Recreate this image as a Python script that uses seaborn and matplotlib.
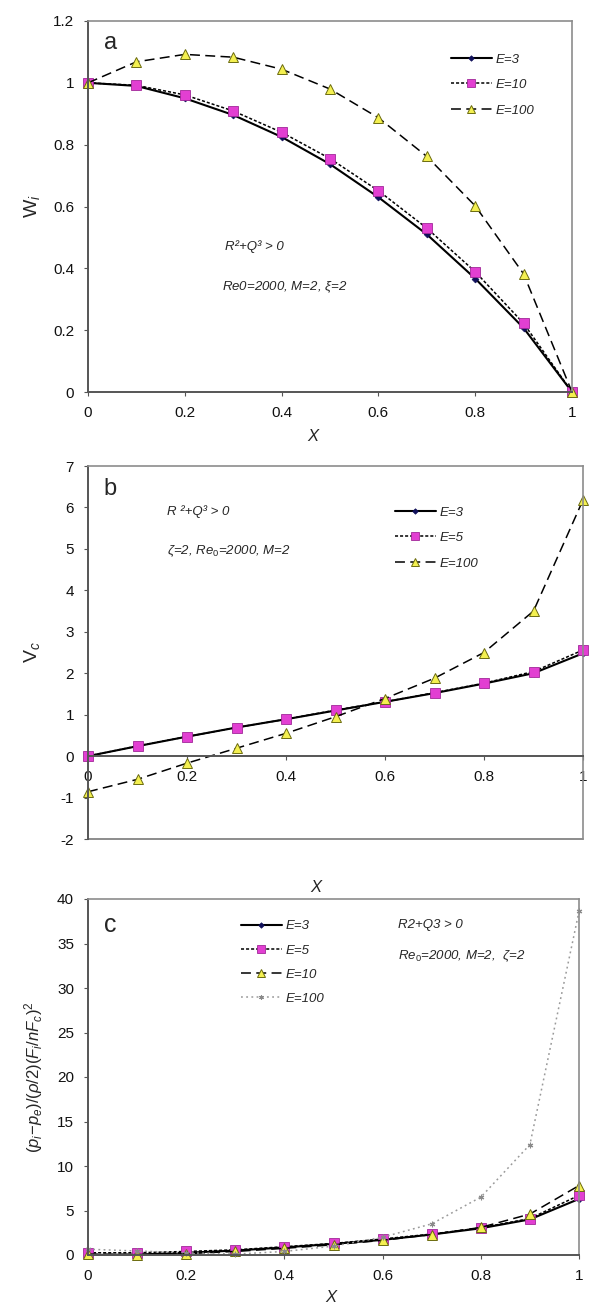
import matplotlib
matplotlib.use("Agg")
import matplotlib.pyplot as plt
import seaborn as sns
import pandas as pd

# ---------------- data ----------------
x_vals = [0.0, 0.1, 0.2, 0.3, 0.4, 0.5, 0.6, 0.7, 0.8, 0.9, 1.0]
x_ticks = [0, 0.2, 0.4, 0.6, 0.8, 1.0]
x_tick_labels = ["0", "0.2", "0.4", "0.6", "0.8", "1"]

# panel a : W_i
a_series = ["E=3", "E=10", "E=100"]
a_e3 = [1.0, 0.99, 0.95, 0.896, 0.825, 0.737, 0.63, 0.51, 0.367, 0.207, 0.0]
a_e10 = [1.0, 0.992, 0.961, 0.909, 0.84, 0.755, 0.651, 0.53, 0.389, 0.222, 0.0]
a_e100 = [1.0, 1.068, 1.092, 1.083, 1.044, 0.98, 0.887, 0.762, 0.602, 0.382, 0.0]
a_yticks = [0, 0.2, 0.4, 0.6, 0.8, 1.0, 1.2]
a_ytick_labels = ["0", "0.2", "0.4", "0.6", "0.8", "1", "1.2"]

# panel b : V_c
b_series = ["E=3", "E=5", "E=100"]
b_e3 = [0.0, 0.24, 0.47, 0.69, 0.89, 1.10, 1.31, 1.52, 1.75, 2.0, 2.48]
b_e5 = [0.0, 0.245, 0.47, 0.69, 0.89, 1.11, 1.31, 1.53, 1.76, 2.04, 2.56]
b_e100 = [-0.86, -0.56, -0.17, 0.19, 0.55, 0.95, 1.39, 1.88, 2.5, 3.5, 6.18]
b_yticks = [-2, -1, 0, 1, 2, 3, 4, 5, 6, 7]
b_ytick_labels = ["-2", "-1", "0", "1", "2", "3", "4", "5", "6", "7"]

# panel c : pressure
c_series = ["E=3", "E=5", "E=10", "E=100"]
c_e3 = [0.0, 0.05, 0.25, 0.5, 0.85, 1.25, 1.7, 2.3, 3.0, 4.0, 6.3]
c_e5 = [0.25, 0.25, 0.4, 0.58, 0.93, 1.3, 1.8, 2.35, 3.05, 4.1, 6.7]
c_e10 = [0.1, 0.05, 0.15, 0.4, 0.75, 1.15, 1.65, 2.3, 3.1, 4.6, 7.8]
c_e100 = [0.65, 0.45, 0.25, 0.1, 0.4, 1.0, 2.0, 3.5, 6.5, 12.4, 38.6]
c_yticks = [0, 5, 10, 15, 20, 25, 30, 35, 40]
c_ytick_labels = ["0", "5", "10", "15", "20", "25", "30", "35", "40"]

# ---------------- style ----------------
sns.set_theme(style="white")
plt.rcParams["font.family"] = ["Liberation Sans", "DejaVu Sans"]
plt.rcParams["mathtext.fontset"] = "custom"
plt.rcParams["mathtext.rm"] = "Liberation Sans"
plt.rcParams["mathtext.it"] = "Liberation Sans:italic"
plt.rcParams["mathtext.bf"] = "Liberation Sans:bold"

W, H = 589, 1310
fig = plt.figure(figsize=(W / 100, H / 100), dpi=100)


def add_ax(l, t, r, b):
    return fig.add_axes([l / W, 1 - b / H, (r - l) / W, (b - t) / H])


ax_a = add_ax(88, 21, 572, 392)
ax_b = add_ax(88, 466, 583, 839)
ax_c = add_ax(88, 899, 579, 1255)

SOLID = dict(color="black", linestyle="-", linewidth=1.5, marker="D", markersize=3.5,
             markerfacecolor="#10105a", markeredgecolor="#10105a", markeredgewidth=0.5)
DOTTED = dict(color="black", linestyle=(0, (2.0, 1.3)), linewidth=1.1, marker="s", markersize=6.5,
              markerfacecolor="#e23fd2", markeredgecolor="#a02898", markeredgewidth=0.6)
DASHED = dict(color="black", linestyle=(0, (6.5, 3.5)), linewidth=1.1, marker="^", markersize=6.5,
              markerfacecolor="#f4f050", markeredgecolor="#6b6b10", markeredgewidth=0.7)
GRAYDOT = dict(color="#9a9a9a", linestyle=(0, (1.2, 2.2)), linewidth=1.1, marker=(6, 2, 0),
               markersize=4, markerfacecolor="#9a9a9a", markeredgecolor="#8a8a8a", markeredgewidth=0.8)


def draw(ax, ys, labels, styles):
    for y, lab, st in zip(ys, labels, styles):
        df = pd.DataFrame({"x": x_vals, "y": y})
        sns.lineplot(data=df, x="x", y="y", ax=ax, errorbar=None, label=lab, **st)


def frame(ax):
    for s in ["left", "bottom"]:
        ax.spines[s].set_color("#555555")
        ax.spines[s].set_linewidth(1.4)
    for s in ["top", "right"]:
        ax.spines[s].set_color("#8c8c8c")
        ax.spines[s].set_linewidth(1.2)
    ax.tick_params(axis="both", direction="out", length=3, width=0.8, color="#555555",
                   labelsize=11, labelcolor="#111111", bottom=True, left=True)
    ax.tick_params(axis="y", pad=7)
    ax.tick_params(axis="x", pad=7)
    ax.set_xlim(0, 1)
    ax.set_xticks(x_ticks)
    ax.set_xticklabels(x_tick_labels)


def legend(ax, x0, yc, spacing):
    h, l = ax.get_legend_handles_labels()
    ax.legend(h, l, loc="center left", bbox_to_anchor=(x0, yc), frameon=False,
              borderpad=0, borderaxespad=0, handlelength=3.1, handletextpad=0.3,
              labelspacing=spacing, numpoints=1, markerscale=0.8,
              prop={"family": "Liberation Sans", "style": "italic", "size": 9.5})


# ---------- panel a ----------
draw(ax_a, [a_e3, a_e10, a_e100], a_series, [SOLID, DOTTED, DASHED])
frame(ax_a)
ax_a.set_ylim(0, 1.2)
ax_a.set_yticks(a_yticks)
ax_a.set_yticklabels(a_ytick_labels)
for ln in ax_a.get_lines():
    ln.set_clip_on(False)
ax_a.set_ylabel(r"W$_{\mathit{i}}$", fontsize=14)
ax_a.yaxis.set_label_coords(-0.116, 0.5)
ax_a.yaxis.label.set_va("center")
ax_a.set_xlabel("X", fontsize=12, style="italic")
ax_a.xaxis.set_label_coords(0.465, -0.119)
ax_a.xaxis.label.set_va("center")
ax_a.text(0.0475, 0.94, "a", transform=ax_a.transAxes, fontsize=17, ha="center", va="center")
ax_a.text(0.343, 0.391, "R²+Q³ > 0", transform=ax_a.transAxes, fontsize=9.5,
          style="italic", ha="center", va="center")
ax_a.text(0.407, 0.283, r"Re0=2000, M=2, $\xi$=2", transform=ax_a.transAxes, fontsize=9.5,
          style="italic", ha="center", va="center")
legend(ax_a, 0.75, 0.8275, 1.0)

# ---------- panel b ----------
draw(ax_b, [b_e3, b_e5, b_e100], b_series, [SOLID, DOTTED, DASHED])
frame(ax_b)
ax_b.set_ylim(-2, 7)
ax_b.set_yticks(b_yticks)
ax_b.set_yticklabels(b_ytick_labels)
ax_b.spines["bottom"].set_position(("data", 0))
ax_b.axhline(-2, color="#8c8c8c", linewidth=1.4, clip_on=False, zorder=0)
for ln in ax_b.get_lines():
    ln.set_clip_on(False)
ax_b.set_ylabel(r"V$_{\mathit{c}}$", fontsize=14)
ax_b.yaxis.set_label_coords(-0.113, 0.5)
ax_b.yaxis.label.set_va("center")
ax_b.set_xlabel("X", fontsize=12, style="italic")
ax_b.xaxis.set_label_coords(0.46, -0.131)
ax_b.xaxis.label.set_va("center")
ax_b.text(0.044, 0.938, "b", transform=ax_b.transAxes, fontsize=17, ha="center", va="center")
ax_b.text(0.16, 0.879, "R ²+Q³ > 0", transform=ax_b.transAxes, fontsize=9.5,
          style="italic", ha="left", va="center")
ax_b.text(0.16, 0.772, r"$\zeta$=2, Re$_0$=2000, M=2", transform=ax_b.transAxes, fontsize=9.5,
          style="italic", ha="left", va="center")
legend(ax_b, 0.62, 0.807, 1.0)

# ---------- panel c ----------
draw(ax_c, [c_e3, c_e5, c_e10, c_e100], c_series, [SOLID, DOTTED, DASHED, GRAYDOT])
frame(ax_c)
ax_c.set_ylim(0, 40)
ax_c.set_yticks(c_yticks)
ax_c.set_yticklabels(c_ytick_labels)
for ln in ax_c.get_lines():
    ln.set_clip_on(False)
ax_c.set_ylabel(r"$(p_i\!-\!p_e)/(\rho/2)(F_i/nF_c)^2$", fontsize=12)
ax_c.yaxis.set_label_coords(-0.11, 0.5)
ax_c.yaxis.label.set_va("center")
ax_c.set_xlabel("X", fontsize=12, style="italic")
ax_c.xaxis.set_label_coords(0.495, -0.118)
ax_c.xaxis.label.set_va("center")
ax_c.text(0.045, 0.927, "c", transform=ax_c.transAxes, fontsize=18, ha="center", va="center")
ax_c.text(0.631, 0.927, "R2+Q3 > 0", transform=ax_c.transAxes, fontsize=9.5,
          style="italic", ha="left", va="center")
ax_c.text(0.631, 0.84, r"Re$_0$=2000, M=2,  $\zeta$=2", transform=ax_c.transAxes, fontsize=9.5,
          style="italic", ha="left", va="center")
legend(ax_c, 0.3116, 0.8216, 0.9)

fig.savefig("out.png", dpi=100)
